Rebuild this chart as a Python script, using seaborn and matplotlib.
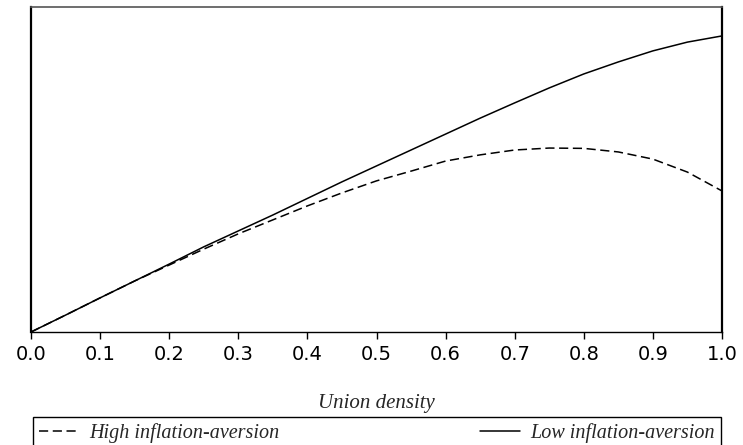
import matplotlib
matplotlib.use("Agg")
import matplotlib.pyplot as plt
import numpy as np
import pandas as pd
import seaborn as sns

# union density grid and the two curves (arbitrary units)
union_density = [0.0, 0.05, 0.1, 0.15, 0.2, 0.25, 0.3, 0.35, 0.4, 0.45, 0.5,
                 0.55, 0.6, 0.65, 0.7, 0.75, 0.8, 0.85, 0.9, 0.95, 1.0]
high_aversion = [0.0, 5.2, 10.5, 15.7, 20.6, 25.5, 30.2, 34.5, 38.8, 42.8, 46.5,
                 49.5, 52.6, 54.5, 56.0, 56.6, 56.5, 55.4, 53.2, 49.2, 43.4]
low_aversion = [0.0, 5.2, 10.5, 15.7, 20.9, 26.2, 31.1, 36.0, 41.1, 46.2, 51.1,
                56.0, 60.9, 65.8, 70.5, 75.1, 79.4, 83.1, 86.5, 89.2, 91.1]
x_ticks = [0.0, 0.1, 0.2, 0.3, 0.4, 0.5, 0.6, 0.7, 0.8, 0.9, 1.0]

df = pd.DataFrame({"density": union_density,
                   "high": high_aversion,
                   "low": low_aversion})

sns.set_style("white")
plt.rcParams["font.family"] = ["DejaVu Sans"]

W, H = 743, 445
fig = plt.figure(figsize=(W / 100, H / 100), dpi=100)
ax = fig.add_axes([31 / W, 1 - 332 / H, (722 - 31) / W, (332 - 7) / H])

sns.lineplot(data=df, x="density", y="high", ax=ax, color="black",
             linewidth=1.1, label="High inflation-aversion")
sns.lineplot(data=df, x="density", y="low", ax=ax, color="black",
             linewidth=1.1, label="Low inflation-aversion")
ax.lines[0].set_dashes((6, 3))

ax.set_xlim(0, 1)
ax.set_ylim(0, 100)
ax.set_xticks(x_ticks)
ax.set_xticklabels([f"{t:.1f}" for t in x_ticks], fontsize=14)
ax.set_yticks([])
ax.set_ylabel("")
ax.tick_params(axis="x", direction="out", length=5, width=1, pad=4,
               bottom=True, colors="black")

ax.spines["left"].set_linewidth(1.6)
ax.spines["right"].set_linewidth(1.6)
ax.spines["left"].set_color("black")
ax.spines["right"].set_color("black")
ax.spines["top"].set_linewidth(1.2)
ax.spines["top"].set_color("#555555")
ax.spines["bottom"].set_linewidth(1.0)
ax.spines["bottom"].set_color("black")

ax.set_xlabel("Union density", family="Liberation Serif", style="italic",
              fontsize=15)
ax.xaxis.set_label_coords(0.5, -0.19)

handles, labels = ax.get_legend_handles_labels()
ax.get_legend().remove()
leg = fig.legend(handles, labels, loc="upper left", ncol=2, mode="expand",
                 bbox_to_anchor=(33 / W, 0, (721 - 33) / W, 28 / H),
                 bbox_transform=fig.transFigure,
                 prop=dict(family="Liberation Serif", style="italic", size=14.5),
                 frameon=True, fancybox=False, edgecolor="black", framealpha=1,
                 handlelength=2.0, handletextpad=0.5, borderpad=0.3,
                 borderaxespad=0)
leg.get_frame().set_linewidth(1.0)

fig.savefig("out.png", dpi=100)
